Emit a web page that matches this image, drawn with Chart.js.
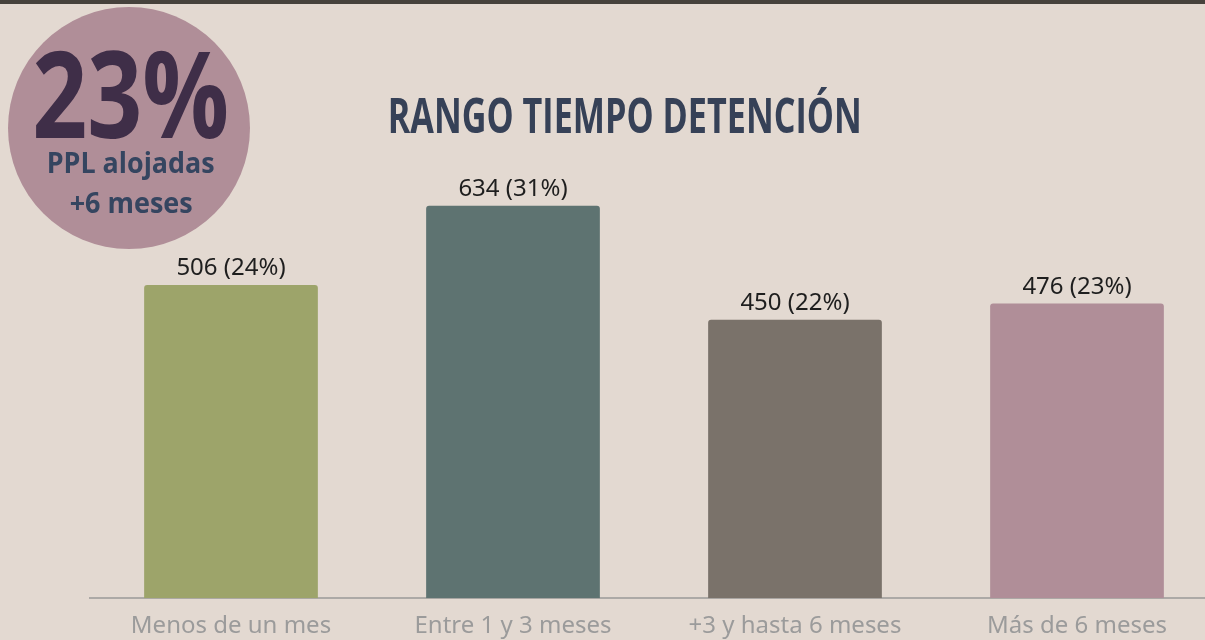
<!DOCTYPE html>
<html>
<head>
<meta charset="utf-8">
<script src="https://cdn.jsdelivr.net/npm/chart.js@4/dist/chart.umd.min.js"></script>
<style>
  html, body { margin: 0; padding: 0; }
  body { width: 1205px; height: 640px; overflow: hidden; background: #e3d9d1; position: relative; }
  #topbar { position: absolute; left: 0; top: 0; width: 1205px; height: 4px; background: #46423c; }
  #wrap { position: absolute; left: 0; top: 0; width: 1230px; height: 655px; }
  #badge { position: absolute; left: 8px; top: 7px; width: 242px; height: 242px; border-radius: 50%; background: #b08e98; }
  .txt { position: absolute; white-space: nowrap; line-height: 1; transform-origin: 50% 50%;
         font-family: "Open Sans", "Noto Sans", sans-serif; font-weight: bold; }
  #big   { font-size: 120px; color: #3f2e48; }
  #sub1  { font-size: 29px; color: #354560; }
  #sub2  { font-size: 29px; color: #354560; }
  #title { font-size: 49px; color: #364157; }
</style>
</head>
<body>
<div id="topbar"></div>
<div id="wrap"><canvas id="chart" width="1230" height="655"></canvas></div>
<div id="badge"></div>
<span class="txt" id="big">23%</span>
<span class="txt" id="sub1">PPL alojadas</span>
<span class="txt" id="sub2">+6 meses</span>
<span class="txt" id="title">RANGO TIEMPO DETENCIÓN</span>
<script>
// data
const categories = ['Menos de un mes', 'Entre 1 y 3 meses', '+3 y hasta 6 meses', 'Más de 6 meses'];
const counts     = [506, 634, 450, 476];
const shares     = [24, 31, 22, 23];
const barColors  = ['#9da46a', '#5e7371', '#7a726a', '#b08e98'];

// overlay text, placed by baseline and squeezed to width
function place(id, cx, baseline, width) {
  const node = document.getElementById(id);
  const probe = document.createElement('span');
  probe.style.cssText = 'display:inline-block;width:0;height:0;vertical-align:baseline';
  node.appendChild(probe);
  const r = node.getBoundingClientRect();
  const base = probe.getBoundingClientRect().top - r.top;
  node.removeChild(probe);
  node.style.left = (cx - r.width / 2) + 'px';
  node.style.top  = (baseline - base) + 'px';
  node.style.transform = `scaleX(${width / r.width})`;
}
place('big',   131, 138, 197);
place('sub1',  131, 173, 168);
place('sub2',  131, 213, 123);
place('title', 625, 133, 474);

const valueLabels = {
  id: 'valueLabels',
  afterDatasetsDraw(chart) {
    const ctx = chart.ctx;
    ctx.save();
    ctx.font = '24px "Noto Sans", sans-serif';
    ctx.fillStyle = '#1e1e1e';
    ctx.textAlign = 'center';
    ctx.textBaseline = 'alphabetic';
    chart.getDatasetMeta(0).data.forEach((bar, i) => {
      ctx.fillText(`${counts[i]} (${shares[i]}%)`, bar.x, bar.y - 10);
    });
    ctx.restore();
  }
};

new Chart(document.getElementById('chart'), {
  type: 'bar',
  data: {
    labels: categories,
    datasets: [{
      data: counts,
      backgroundColor: barColors,
      borderRadius: 3,
      categoryPercentage: 0.8,
      barPercentage: 0.77,
    }],
  },
  options: {
    responsive: false,
    animation: false,
    layout: { padding: { left: 90, right: 12, top: 103, bottom: 0 } },
    plugins: { legend: { display: false }, tooltip: { enabled: false } },
    scales: {
      x: {
        grid: { display: false, drawTicks: false },
        border: { display: true, color: '#aca9a6', width: 2 },
        ticks: { color: '#9b9b9b', font: { family: '"Noto Sans", sans-serif', size: 24 }, padding: 14, maxRotation: 0 },
      },
      y: { display: false, min: 0, max: 800 },
    },
  },
  plugins: [valueLabels],
});
</script>
</body>
</html>
